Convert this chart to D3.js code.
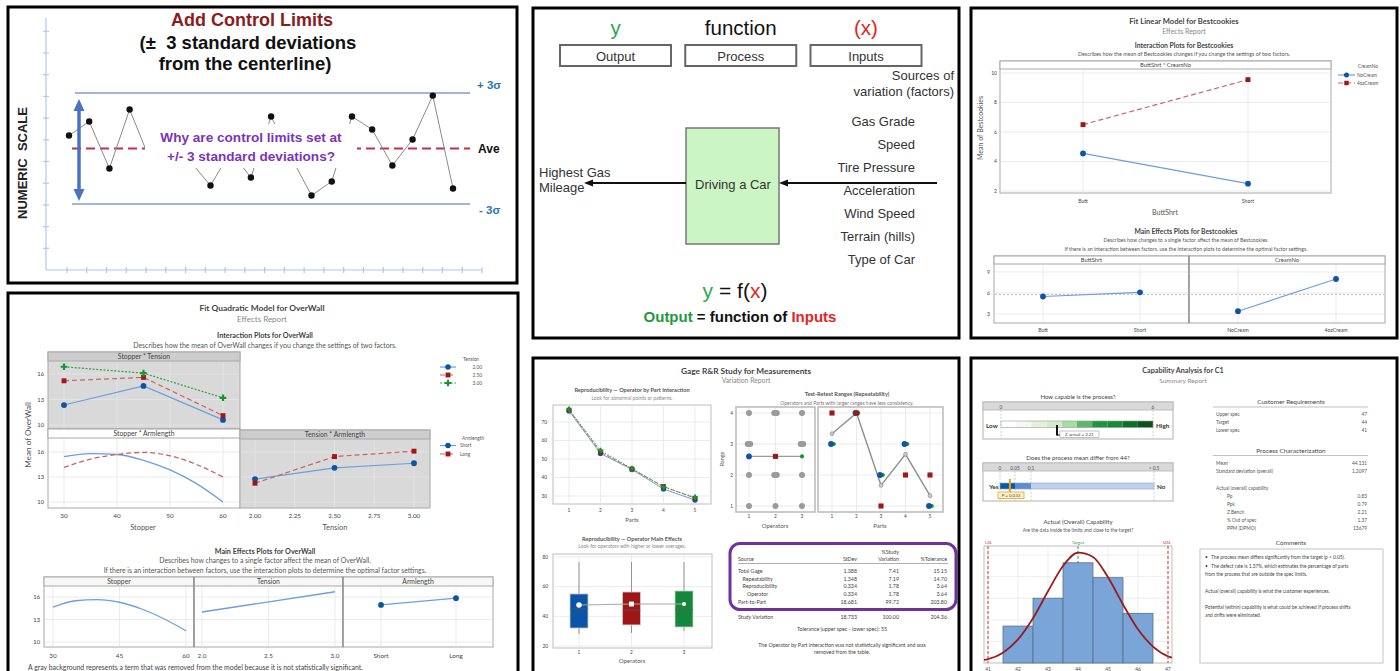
<!DOCTYPE html>
<html>
<head>
<meta charset="utf-8">
<script src="https://cdn.jsdelivr.net/npm/d3@7"></script>
<style>
  body { margin: 0; background: #fff; }
  svg { display: block; }
</style>
</head>
<body>
<svg id="chart" width="1400" height="671"></svg>
<script>
// ---------------- data ----------------
// control chart (values in sigma units around the centerline)
const ctrlValues = [0.70, 1.46, -1.08, 2.11, -0.6, -0.05, -0.7, -2.0, -0.16, -1.57,
                    1.73, -0.49, -2.54, -1.78, 1.73, 1.03, -0.92, 0.49, 2.86, -2.16];
const ctrlLimitLabels = ["+ 3σ", "- 3σ"];

// y = f(x) diagram
const ioWords = ["y", "function", "(x)"];
const ioHeads = ["Output", "Process", "Inputs"];
const factors = ["Gas Grade", "Speed", "Tire Pressure", "Acceleration", "Wind Speed", "Terrain (hills)", "Type of Car"];

// Bestcookies
const buttShrt = ["Butt", "Short"];
const creamNo = ["NoCream", "4ozCream"];
const cookieNoCream = [4.55, 2.5];
const cookie4oz = [6.5, 9.55];
const cookieMainButt = [5.5, 6.1];
const cookieMainCream = [3.4, 8.0];
const cookieMean = 5.8;

// OverWall
const stopperLevels = [30, 45, 60];
const tensionNames = ["2.00", "2.50", "3.00"];
const stopTension = [[12.35, 14.6, 10.6], [15.2, 15.6, 11.1], [16.85, 16.1, 13.2]];
const stopperGrid = [30, 35, 40, 45, 50, 55, 60];
const stopArmShort = [15.45, 15.8, 15.7, 15.0, 13.85, 12.2, 10.0];
const stopArmLong = [14.15, 15.15, 15.7, 15.95, 15.55, 14.5, 13.0];
const tensionLevels = [2.0, 2.5, 3.0];
const tensArmShort = [12.75, 14.1, 14.65];
const tensArmLong = [12.25, 15.45, 16.1];
const armNames = ["Short", "Long"];
const mainStopper = [14.65, 15.5, 15.65, 15.3, 14.4, 13.1, 11.5];
const mainTensionX = [2.0, 3.0];
const mainTension = [14.0, 16.7];
const mainArm = [14.95, 15.85];

// Gage R&R
const parts = [1, 2, 3, 4, 5];
const operators = [1, 2, 3];
const opPartMeans = [[76.0, 53.0, 44.3, 33.8, 27.8], [76.5, 53.8, 44.6, 35.2, 28.8], [76.8, 54.6, 44.8, 34.8, 29.3]];
const opRanges = [[3, 4, 2, 3, 1], [4, 4, 1, 2, 2], [3, 4, 2, 3, 1]];
const opQ1 = [32.1, 34.2, 32.8];
const opMedian = [45.0, 44.2, 44.6];
const opQ3 = [55.1, 56.4, 57.1];
const opLow = [28.1, 28.8, 30.1];
const opHigh = [76.6, 76.6, 76.6];
const opMean = [47.6, 48.3, 48.3];
const gageSources = ["Total Gage", "Repeatability", "Reproducibility", "Operator", "Part-to-Part"];
const gageIndent = [0, 1, 1, 2, 0];
const gageStDev = ["1.388", "1.348", "0.334", "0.334", "18.681"];
const gageStudyVar = ["7.41", "7.19", "1.78", "1.78", "99.72"];
const gageTol = ["15.15", "14.70", "3.64", "3.64", "203.80"];

// Capability
const zBands = [0, 0.6, 1.2, 1.8, 2.4, 3.0, 3.6, 4.2, 4.8, 5.4, 6.0];
const zColors = ["#ffffff", "#f3faf0", "#e2f3da", "#d3edc8", "#a5dca6", "#5db867", "#1f9443", "#168a3a", "#0c6e2b", "#0a531f"];
const zActual = 2.21;
const pBands = [0, 0.05, 0.1, 0.5];
const pColors = ["#0b58a8", "#5b8fd2", "#bcd2f0"];
const pValue = 0.033;
const capBins = [42, 43, 44, 45, 46];
const capHeights = [1.71, 3.0, 4.64, 3.95, 2.3];
const capCurveX = [40.87, 41, 41.5, 42, 42.5, 43, 43.5, 44, 44.5, 45, 45.5, 46, 46.5, 47, 47.13];
const capCurveY = [0.14, 0.18, 0.48, 1.09, 2.07, 3.32, 4.49, 5.11, 4.91, 3.97, 2.71, 1.56, 0.76, 0.31, 0.25];
const specNames = ["LSL", "Target", "USL"];
const specValues = [41, 44, 47];
const custRows = ["Upper spec", "Target", "Lower spec"];
const custVals = ["47", "44", "41"];
const procRows = ["Mean", "Standard deviation (overall)"];
const procVals = ["44.131", "1.2097"];
const capRows = ["Pp", "Ppk", "Z.Bench", "% Out of spec", "PPM (DPMO)"];
const capVals = ["0.83", "0.79", "2.21", "1.37", "13679"];

// ---------------- helpers ----------------
const MT = "Lato, 'Open Sans', 'DejaVu Sans', sans-serif";
const AR = "'Liberation Sans', Arial, sans-serif";
const svg = d3.select("#chart");
svg.append("rect").attr("width", 1400).attr("height", 671).attr("fill", "#fff");

function label(g, x, y, s, size, o = {}) {
  return g.append("text")
    .attr("x", x).attr("y", y)
    .attr("font-family", o.family || MT)
    .attr("font-size", size)
    .attr("font-weight", o.weight || "normal")
    .attr("fill", o.fill || "#333")
    .attr("text-anchor", o.anchor || "start")
    .style("white-space", "pre")
    .text(s);
}
function hline(g, x0, x1, y, col, w, dash) {
  return g.append("line").attr("x1", x0).attr("x2", x1).attr("y1", y).attr("y2", y)
    .attr("stroke", col).attr("stroke-width", w || 1).attr("stroke-dasharray", dash || null);
}
function vline(g, x, y0, y1, col, w, dash) {
  return g.append("line").attr("x1", x).attr("x2", x).attr("y1", y0).attr("y2", y1)
    .attr("stroke", col).attr("stroke-width", w || 1).attr("stroke-dasharray", dash || null);
}
function box(g, x0, y0, x1, y1, fill, stroke, w) {
  return g.append("rect").attr("x", x0).attr("y", y0).attr("width", x1 - x0).attr("height", y1 - y0)
    .attr("fill", fill || "none").attr("stroke", stroke || "none").attr("stroke-width", w || 1);
}
function grid(g, xs, ys, x0, x1, y0, y1, col) {
  xs.forEach(x => vline(g, x, y0, y1, col || "#e6e6e6", 0.8));
  ys.forEach(y => hline(g, x0, x1, y, col || "#e6e6e6", 0.8));
}
function marker(g, type, x, y, size, fill) {
  g.append("path").attr("d", d3.symbol().type(type).size(size)())
    .attr("transform", `translate(${x},${y})`).attr("fill", fill);
}
function series(g, xs, ys, xs_, ys_, st) {
  const line = d3.line().x((d, i) => xs_(xs[i])).y(d => ys_(d)).curve(st.curve || d3.curveLinear);
  g.append("path").datum(ys).attr("d", line).attr("fill", "none")
    .attr("stroke", st.stroke).attr("stroke-width", st.width || 1.2)
    .attr("stroke-dasharray", st.dash || null);
  if (st.symbol) ys.forEach((v, i) => marker(g, st.symbol, xs_(xs[i]) + (st.dx || 0), ys_(v), st.size || 22, st.fill));
}
function facet(g, x0, y0, x1, y1, hh, title, bg, hbg, size) {
  box(g, x0, y0, x1, y1, bg, "#a8a8a8", 1);
  box(g, x0, y0, x1, y0 + hh, hbg, "#a8a8a8", 1);
  if (title) label(g, (x0 + x1) / 2, y0 + hh - 2, title, size, { anchor: "middle", fill: "#444" });
}
const blueSt = { stroke: "#6c9fdc", fill: "#0b54a6", symbol: d3.symbolCircle, size: 26 };
const redSt = { stroke: "#c86464", dash: "5,3", fill: "#a31616", symbol: d3.symbolSquare, size: 24 };
const greenSt = { stroke: "#2ea33a", dash: "2,1.6", fill: "#13962f", symbol: d3.symbolCross, size: 24 };

// =============== panel 1 : control limits ===============
const g1 = svg.append("g");
const axisCol = "#b4c6e7";
const frameY = d3.scaleLinear().domain([0, 12]).range([270, 9.6]);
const frameX = d3.scaleLinear().domain([0, 21]).range([67, 482]);
vline(g1, 46, 18, 270, axisCol, 1.2);
d3.range(1, 12).forEach(t => hline(g1, 43, 49, frameY(t), axisCol, 1.2));
hline(g1, 46, 482, 270, axisCol, 1.2);
d3.range(0, 22).forEach(t => vline(g1, frameX(t), 267, 273, axisCol, 1.2));

label(g1, 252, 26, "Add Control Limits", 18, { family: AR, weight: "bold", fill: "#8b1c1c", anchor: "middle" });
label(g1, 248, 49, "(±  3 standard deviations", 18.5, { family: AR, weight: "bold", fill: "#111", anchor: "middle" });
label(g1, 245, 70, "from the centerline)", 18.5, { family: AR, weight: "bold", fill: "#111", anchor: "middle" });
label(g1, 0, 0, "NUMERIC  SCALE", 13, { family: AR, weight: "bold", fill: "#222", anchor: "middle" })
  .attr("transform", "translate(27,163) rotate(-90)");

const sigY = d3.scaleLinear().domain([-3, 3]).range([204, 93]);
const ptX = d3.scaleLinear().domain([0, ctrlValues.length - 1]).range([69, 453]);
hline(g1, 75, 470, sigY(3), "#7f9ccc", 1.6);
hline(g1, 72, 470, sigY(-3), "#7f9ccc", 1.6);
hline(g1, 72, 470, sigY(0), "#c0304a", 1.8, "9,5");
label(g1, 477, sigY(3) - 4, ctrlLimitLabels[0], 11.5, { family: AR, weight: "bold", fill: "#2e75b6" });
label(g1, 479, sigY(-3) + 10, ctrlLimitLabels[1], 11.5, { family: AR, weight: "bold", fill: "#2e75b6" });
label(g1, 478, sigY(0) + 4, "Ave", 12, { family: AR, weight: "bold", fill: "#111" });

g1.append("path").datum(ctrlValues)
  .attr("d", d3.line().x((d, i) => ptX(i)).y(d => sigY(d)))
  .attr("fill", "none").attr("stroke", "#8a8a8a").attr("stroke-width", 1);
g1.selectAll("circle.pt").data(ctrlValues).enter().append("circle")
  .attr("cx", (d, i) => ptX(i)).attr("cy", d => sigY(d)).attr("r", 3.2).attr("fill", "#111");

// blue double arrow
vline(g1, 79, 108, 192, "#4a72c0", 3.5);
g1.append("path").attr("d", "M79,99 L73.5,111 L84.5,111 Z").attr("fill", "#4a72c0");
g1.append("path").attr("d", "M79,201 L73.5,189 L84.5,189 Z").attr("fill", "#4a72c0");

// callout box
box(g1, 145, 124, 357, 168, "#fff");
label(g1, 251, 142, "Why are control limits set at", 13.6, { family: AR, weight: "bold", fill: "#7a35b8", anchor: "middle" });
label(g1, 251, 160.5, "+/- 3 standard deviations?", 13.6, { family: AR, weight: "bold", fill: "#7a35b8", anchor: "middle" });

// =============== panel 2 : y = f(x) ===============
const g2 = svg.append("g");
const headX = d3.scalePoint().domain(ioHeads).range([615.5, 866]);
const wordCols = ["#2da84a", "#111", "#e42424"];
ioWords.forEach((w, i) => label(g2, headX(ioHeads[i]), 35, w, 20.5, { family: AR, fill: wordCols[i], anchor: "middle" }));
ioHeads.forEach(h => {
  box(g2, headX(h) - 55.5, 45, headX(h) + 55.5, 66, "#fff", "#666", 2);
  label(g2, headX(h), 60.5, h, 13, { family: AR, fill: "#333", anchor: "middle" });
});
label(g2, 954, 80, "Sources of", 13, { family: AR, fill: "#333", anchor: "end" });
label(g2, 954, 96, "variation (factors)", 13, { family: AR, fill: "#333", anchor: "end" });
const facY = d3.scalePoint().domain(factors).range([126, 264]);
factors.forEach(f => label(g2, 915, facY(f), f, 13, { family: AR, fill: "#333", anchor: "end" }));

box(g2, 686, 128, 779, 244, "#ccf5c4", "#777", 1.5);
label(g2, 733, 189, "Driving a Car", 13, { family: AR, fill: "#333", anchor: "middle" });
hline(g2, 785, 937, 183, "#111", 2);
g2.append("path").attr("d", "M779,183 L788,179.5 L788,186.5 Z").attr("fill", "#111");
hline(g2, 591, 686, 183, "#111", 2);
g2.append("path").attr("d", "M584,183 L593,179.5 L593,186.5 Z").attr("fill", "#111");
label(g2, 539, 177, "Highest Gas", 13, { family: AR, fill: "#333" });
label(g2, 539, 192, "Mileage", 13, { family: AR, fill: "#333" });

const eq = g2.append("text").attr("x", 735).attr("y", 298).attr("text-anchor", "middle")
  .attr("font-family", AR).attr("font-size", 21).style("white-space", "pre");
eq.append("tspan").attr("fill", "#2da84a").text("y");
eq.append("tspan").attr("fill", "#111").text(" = f(");
eq.append("tspan").attr("fill", "#e42424").text("x");
eq.append("tspan").attr("fill", "#111").text(")");
const eq2 = g2.append("text").attr("x", 740).attr("y", 322).attr("text-anchor", "middle")
  .attr("font-family", AR).attr("font-size", 15).attr("font-weight", "bold").style("white-space", "pre");
eq2.append("tspan").attr("fill", "#1f9a3c").text("Output");
eq2.append("tspan").attr("fill", "#111").text(" = function of ");
eq2.append("tspan").attr("fill", "#e42424").text("Inputs");

// =============== panel 3 : Bestcookies ===============
const g3 = svg.append("g");
label(g3, 1184, 24, "Fit Linear Model for Bestcookies", 7.6, { anchor: "middle", weight: "bold", fill: "#444" });
label(g3, 1184, 34, "Effects Report", 7, { anchor: "middle", fill: "#888" });
label(g3, 1184, 48, "Interaction Plots for Bestcookies", 6.8, { anchor: "middle", weight: "bold", fill: "#444" });
label(g3, 1184, 55.5, "Describes how the mean of Bestcookies changes if you change the settings of two factors.", 5.4, { anchor: "middle", fill: "#555" });

facet(g3, 1000, 61, 1331, 193, 8, "ButtShrt * CreamNo", "#fff", "#fff", 5.8);
const ckX = d3.scalePoint().domain(buttShrt).range([1083, 1248]);
const ckY = d3.scaleLinear().domain([2, 10]).range([191, 73]);
grid(g3, buttShrt.map(ckX), [2, 4, 6, 8, 10].map(ckY), 1001, 1330, 70, 192);
[2, 4, 6, 8, 10].forEach(t => label(g3, 997, ckY(t) + 1.8, t, 5, { anchor: "end", fill: "#444" }));
buttShrt.forEach(b => label(g3, ckX(b), 203, b, 5.2, { anchor: "middle", fill: "#444" }));
label(g3, 1165, 215, "ButtShrt", 7, { anchor: "middle", fill: "#555" });
label(g3, 0, 0, "Mean of Bestcookies", 7, { anchor: "middle", fill: "#555" })
  .attr("transform", "translate(983,128) rotate(-90)");
series(g3, buttShrt, cookieNoCream, ckX, ckY, blueSt);
series(g3, buttShrt, cookie4oz, ckX, ckY, redSt);
label(g3, 1368, 68, "CreamNo", 4.8, { anchor: "middle", fill: "#555" });
[blueSt, redSt].forEach((st, i) => {
  const y = 75 + i * 8;
  hline(g3, 1338, 1355, y, st.stroke, 1.2, st.dash);
  marker(g3, st.symbol, 1346.5, y, 20, st.fill);
  label(g3, 1357, y + 1.7, creamNo[i], 4.8, { fill: "#555" });
});

label(g3, 1186, 234, "Main Effects Plots for Bestcookies", 6.8, { anchor: "middle", weight: "bold", fill: "#444" });
label(g3, 1186, 242, "Describes how changes to a single factor affect the mean of Bestcookies.", 5.2, { anchor: "middle", fill: "#555" });
label(g3, 1186, 250.5, "If there is an interaction between factors, use the interaction plots to determine the optimal factor settings.", 5.2, { anchor: "middle", fill: "#555" });
const meY3 = d3.scaleLinear().domain([3, 9]).range([314, 272]);
const bsX = d3.scalePoint().domain(buttShrt).range([1043, 1140]);
const cnX = d3.scalePoint().domain(creamNo).range([1238, 1336]);
facet(g3, 994, 256, 1189, 323, 8, "ButtShrt", "#fff", "#fff", 5.8);
facet(g3, 1189, 256, 1385, 323, 8, "CreamNo", "#fff", "#fff", 5.8);
grid(g3, buttShrt.map(bsX).concat(creamNo.map(cnX)), [], 995, 1384, 265, 322);
[3, 6, 9].forEach(t => { hline(g3, 995, 1384, meY3(t), "#e6e6e6", 0.8); label(g3, 990, meY3(t) + 1.8, t, 5, { anchor: "end", fill: "#444" }); });
vline(g3, 1189, 256, 323, "#8a8a8a", 1.2);
hline(g3, 995, 1384, meY3(cookieMean), "#b8b8b8", 0.9, "2,2");
series(g3, buttShrt, cookieMainButt, bsX, meY3, blueSt);
series(g3, creamNo, cookieMainCream, cnX, meY3, blueSt);
buttShrt.forEach(b => label(g3, bsX(b), 331.5, b, 5.2, { anchor: "middle", fill: "#444" }));
creamNo.forEach(c => label(g3, cnX(c), 331.5, c, 5.2, { anchor: "middle", fill: "#444" }));

// =============== panel 4 : OverWall ===============
const g4 = svg.append("g");
label(g4, 262, 311, "Fit Quadratic Model for OverWall", 8.4, { anchor: "middle", weight: "bold", fill: "#444" });
label(g4, 262, 322, "Effects Report", 8, { anchor: "middle", fill: "#888" });
label(g4, 265, 338, "Interaction Plots for OverWall", 7.2, { anchor: "middle", weight: "bold", fill: "#444" });
label(g4, 265, 347.5, "Describes how the mean of OverWall changes if you change the settings of two factors.", 6.9, { anchor: "middle", fill: "#555" });

const stX = d3.scaleLinear().domain([30, 60]).range([64, 223]);
const stY = d3.scaleLinear().domain([10, 16]).range([425, 374]);
const saY = d3.scaleLinear().domain([10, 16]).range([502, 452]);
const taX = d3.scaleLinear().domain([2, 3]).range([255, 414]);
const gTicks = [10, 13, 16];

facet(g4, 48, 352, 240, 429, 9, "Stopper * Tension", "#d9d9d9", "#cdcdcd", 6.8);
grid(g4, [30, 40, 50, 60].map(stX), gTicks.map(stY), 49, 239, 362, 428, "#e6e6e6");
series(g4, stopperLevels, stopTension[0], stX, stY, blueSt);
series(g4, stopperLevels, stopTension[1], stX, stY, redSt);
series(g4, stopperLevels, stopTension[2], stX, stY, greenSt);

facet(g4, 48, 429, 240, 508, 9, "Stopper * Armlength", "#fff", "#fff", 6.8);
grid(g4, [30, 40, 50, 60].map(stX), gTicks.map(saY), 49, 239, 439, 507);
series(g4, stopperGrid, stopArmShort, stX, saY, { stroke: "#6c9fdc", width: 1.3, curve: d3.curveMonotoneX });
series(g4, stopperGrid, stopArmLong, stX, saY, { stroke: "#c86464", dash: "5,3", width: 1.3, curve: d3.curveMonotoneX });

facet(g4, 240, 430, 430, 508, 9, "Tension * Armlength", "#d9d9d9", "#cdcdcd", 6.8);
grid(g4, [2, 2.25, 2.5, 2.75, 3].map(taX), gTicks.map(saY), 241, 429, 440, 507, "#e6e6e6");
series(g4, tensionLevels, tensArmShort, taX, saY, blueSt);
series(g4, tensionLevels, tensArmLong, taX, saY, redSt);

gTicks.forEach(t => {
  label(g4, 44, stY(t) + 2, t, 5.8, { anchor: "end", fill: "#444" });
  label(g4, 44, saY(t) + 2, t, 5.8, { anchor: "end", fill: "#444" });
});
[30, 40, 50, 60].forEach(t => label(g4, stX(t), 518, t, 6.3, { anchor: "middle", fill: "#444" }));
[2, 2.25, 2.5, 2.75, 3].forEach(t => label(g4, taX(t), 518, d3.format(".2f")(t), 6.3, { anchor: "middle", fill: "#444" }));
label(g4, 143, 530, "Stopper", 7.4, { anchor: "middle", fill: "#555" });
label(g4, 335, 530, "Tension", 7.4, { anchor: "middle", fill: "#555" });
label(g4, 0, 0, "Mean of OverWall", 8.2, { anchor: "middle", fill: "#555" })
  .attr("transform", "translate(31,435) rotate(-90)");

label(g4, 471, 361, "Tension", 4.8, { anchor: "middle", fill: "#555" });
[blueSt, redSt, greenSt].forEach((st, i) => {
  const y = 367 + i * 8;
  hline(g4, 440, 456, y, st.stroke, 1.2, st.dash);
  marker(g4, st.symbol, 448, y, 24, st.fill);
  label(g4, 482, y + 1.7, tensionNames[i], 4.8, { anchor: "end", fill: "#555" });
});
label(g4, 473, 439.5, "Armlength", 4.8, { anchor: "middle", fill: "#555" });
[blueSt, redSt].forEach((st, i) => {
  const y = 445.5 + i * 8.5;
  hline(g4, 440, 456, y, st.stroke, 1.2, st.dash);
  marker(g4, st.symbol, 448, y, 24, st.fill);
  label(g4, 460, y + 1.7, armNames[i], 4.8, { fill: "#555" });
});

label(g4, 265, 553.5, "Main Effects Plots for OverWall", 7.2, { anchor: "middle", weight: "bold", fill: "#444" });
label(g4, 265, 563, "Describes how changes to a single factor affect the mean of OverWall.", 6.9, { anchor: "middle", fill: "#555" });
label(g4, 265, 572.5, "If there is an interaction between factors, use the interaction plots to determine the optimal factor settings.", 6.9, { anchor: "middle", fill: "#555" });
const meY4 = d3.scaleLinear().domain([10, 16]).range([642, 597]);
const msX = d3.scaleLinear().domain([30, 60]).range([53, 186]);
const mtX = d3.scaleLinear().domain([2, 3]).range([202, 335]);
const maX = d3.scalePoint().domain(armNames).range([381, 456]);
facet(g4, 44, 577, 194, 647, 9, "Stopper", "#fff", "#f7f7f7", 6.8);
facet(g4, 194, 577, 343, 647, 9, "Tension", "#fff", "#f7f7f7", 6.8);
facet(g4, 343, 577, 493, 647, 9, "Armlength", "#fff", "#f7f7f7", 6.8);
grid(g4, [30, 45, 60].map(msX).concat([2, 2.5, 3].map(mtX), armNames.map(maX)), [], 45, 492, 587, 646);
gTicks.forEach(t => { hline(g4, 45, 492, meY4(t), "#e6e6e6", 0.8); label(g4, 40, meY4(t) + 2, t, 5.8, { anchor: "end", fill: "#444" }); });
vline(g4, 194, 577, 647, "#8a8a8a", 1.3);
vline(g4, 343, 577, 647, "#8a8a8a", 1.3);
series(g4, stopperGrid, mainStopper, msX, meY4, { stroke: "#6c9fdc", width: 1.3, curve: d3.curveMonotoneX });
series(g4, mainTensionX, mainTension, mtX, meY4, { stroke: "#6c9fdc", width: 1.3 });
series(g4, armNames, mainArm, maX, meY4, blueSt);
[30, 45, 60].forEach(t => label(g4, msX(t), 657.5, t, 6.3, { anchor: "middle", fill: "#444" }));
[2, 2.5, 3].forEach(t => label(g4, mtX(t), 657.5, d3.format(".1f")(t), 6.3, { anchor: "middle", fill: "#444" }));
armNames.forEach(a => label(g4, maX(a), 657.5, a, 6.3, { anchor: "middle", fill: "#444" }));
label(g4, 28, 669.5, "A gray background represents a term that was removed from the model because it is not statistically significant.", 6.9, { fill: "#444" });

// =============== panel 5 : Gage R&R ===============
const g5 = svg.append("g");
label(g5, 746, 374, "Gage R&R Study for Measurements", 8.3, { anchor: "middle", weight: "bold", fill: "#444" });
label(g5, 746, 383, "Variation Report", 6.8, { anchor: "middle", fill: "#888" });
label(g5, 632, 392, "Reproducibility — Operator by Part Interaction", 5.6, { anchor: "middle", weight: "bold", fill: "#555" });
label(g5, 632, 399.5, "Look for abnormal points or patterns.", 5, { anchor: "middle", fill: "#888" });

const opStyles = [
  { stroke: "#6c9fdc", fill: "#0b54a6", symbol: d3.symbolCircle, size: 22, dx: 0 },
  { stroke: "#c86464", dash: "4,2", fill: "#a31616", symbol: d3.symbolSquare, size: 22, dx: 0 },
  { stroke: "#2ea33a", dash: "1.5,1.5", fill: "#13962f", symbol: d3.symbolCross, size: 18, dx: 0 }
];
box(g5, 553, 405, 711, 504, "#fff", "#bdbdbd", 1);
const ppX = d3.scaleLinear().domain([1, 5]).range([569, 695]);
const ppY = d3.scaleLinear().domain([30, 70]).range([496, 422]);
grid(g5, parts.map(ppX), [30, 40, 50, 60, 70].map(ppY), 554, 710, 406, 503);
[30, 40, 50, 60, 70].forEach(t => label(g5, 547, ppY(t) + 1.7, t, 4.8, { anchor: "end", fill: "#444" }));
parts.forEach(p => label(g5, ppX(p), 512, p, 4.8, { anchor: "middle", fill: "#444" }));
label(g5, 632, 521.5, "Parts", 6, { anchor: "middle", fill: "#555" });
opPartMeans.forEach((row, i) => series(g5, parts, row, ppX, ppY, Object.assign({ width: 1 }, opStyles[i])));

// test-retest ranges
label(g5, 847, 396, "Test-Retest Ranges (Repeatability)", 5.6, { anchor: "middle", weight: "bold", fill: "#555" });
label(g5, 847, 405, "Operators and Parts with larger ranges have less consistency.", 5, { anchor: "middle", fill: "#777" });
const rY = d3.scaleLinear().domain([1, 4]).range([506, 413]);
const orX = d3.scaleLinear().domain([1, 3]).range([749, 802]);
const prX = d3.scaleLinear().domain([1, 5]).range([832, 930]);
box(g5, 736, 407, 815, 512, "#fff", "#bdbdbd", 1.6);
box(g5, 818, 407, 943, 512, "#fff", "#bdbdbd", 1.6);
grid(g5, operators.map(orX), [1, 2, 3, 4].map(rY), 737, 814, 408, 511);
grid(g5, parts.map(prX), [1, 2, 3, 4].map(rY), 819, 942, 408, 511);
[1, 2, 3, 4].forEach(t => label(g5, 733, rY(t) + 1.7, t, 4.8, { anchor: "end", fill: "#444" }));
operators.forEach(o => label(g5, orX(o), 517.5, o, 4.8, { anchor: "middle", fill: "#444" }));
parts.forEach(p => label(g5, prX(p), 517.5, p, 4.8, { anchor: "middle", fill: "#444" }));
label(g5, 775, 528, "Operators", 6, { anchor: "middle", fill: "#555" });
label(g5, 880, 528, "Parts", 6, { anchor: "middle", fill: "#555" });
label(g5, 0, 0, "Range", 5.4, { anchor: "middle", fill: "#555" }).attr("transform", "translate(724,459) rotate(-90)");
opRanges.forEach((row, i) => {
  const counts = {};
  row.forEach(v => { counts[v] = (counts[v] || 0) + 1; });
  const seen = {};
  row.forEach(v => {
    const k = seen[v] || 0; seen[v] = k + 1;
    const off = (k - (counts[v] - 1) / 2) * 2.5;
    g5.append("circle").attr("cx", orX(operators[i]) + off).attr("cy", rY(v)).attr("r", 3).attr("fill", "#9a9a9a");
  });
});
const rrSym = [d3.symbolCircle, d3.symbolSquare, d3.symbolCircle];
const rrSize = [26, 26, 13];
const opRangeMean = opRanges.map(r => d3.mean(r));
series(g5, operators, opRangeMean, orX, rY, { stroke: "#9a9a9a", width: 1.4 });
opRangeMean.forEach((m, i) => marker(g5, rrSym[i], orX(operators[i]), rY(m), rrSize[i], opStyles[i].fill));
const partRangeMean = parts.map((p, j) => d3.mean(opRanges, r => r[j]));
series(g5, parts, partRangeMean, prX, rY, { stroke: "#8f8f8f", width: 1.4 });
partRangeMean.forEach((m, j) => g5.append("circle").attr("cx", prX(parts[j])).attr("cy", rY(m)).attr("r", 2).attr("fill", "#c8c8c8").attr("stroke", "#888").attr("stroke-width", 0.6));
const rangeDx = [-1, 0, 1.8];
[2, 0, 1].forEach(i => opRanges[i].forEach((v, j) => marker(g5, rrSym[i], prX(parts[j]) + rangeDx[i], rY(v), rrSize[i], opStyles[i].fill)));

// operator main effects boxplot
label(g5, 632, 540.5, "Reproducibility — Operator Main Effects", 5.6, { anchor: "middle", weight: "bold", fill: "#555" });
label(g5, 632, 548, "Look for operators with higher or lower averages.", 5, { anchor: "middle", fill: "#888" });
box(g5, 553, 554, 712, 648, "#fff", "#bdbdbd", 1);
const bY = d3.scaleLinear().domain([20, 80]).range([646, 557]);
const bX = d3.scaleLinear().domain([1, 3]).range([579, 684]);
grid(g5, operators.map(bX), [20, 40, 60, 80].map(bY), 554, 711, 555, 647);
[20, 40, 60, 80].forEach(t => label(g5, 548, bY(t) + 1.7, t, 4.8, { anchor: "end", fill: "#444" }));
operators.forEach(o => label(g5, bX(o), 653.5, o, 4.8, { anchor: "middle", fill: "#444" }));
label(g5, 632, 662.5, "Operators", 6, { anchor: "middle", fill: "#555" });
const boxFill = ["#0b54a6", "#9e1616", "#13873a"];
operators.forEach((o, i) => {
  const x = bX(o);
  vline(g5, x, bY(opHigh[i]), bY(opLow[i]), "#8a8a8a", 0.9);
  box(g5, x - 9, bY(opQ3[i]), x + 9, bY(opQ1[i]), boxFill[i], "#d0d0d0", 0.8);
  hline(g5, x - 9, x + 9, bY(opMedian[i]), "#5a5a5a", 0.7);
});
series(g5, operators, opMean, bX, bY, { stroke: "#a8a8a8", width: 1 });
const meanSym = [d3.symbolCircle, d3.symbolSquare, d3.symbolCircle];
opMean.forEach((m, i) => marker(g5, meanSym[i], bX(operators[i]), bY(m), i === 2 ? 14 : 24, "#fff"));

// table
g5.append("rect").attr("x", 730).attr("y", 543.5).attr("width", 226).attr("height", 66)
  .attr("rx", 10).attr("fill", "none").attr("stroke", "#7030a0").attr("stroke-width", 3);
const colR = [857, 899, 947];
const tf = { fill: "#444" };
label(g5, colR[1], 553.5, "%Study", 5.3, Object.assign({ anchor: "end" }, tf));
label(g5, 738, 561, "Source", 5.3, tf);
label(g5, colR[0], 561, "StDev", 5.3, Object.assign({ anchor: "end" }, tf));
label(g5, colR[1], 561, "Variation", 5.3, Object.assign({ anchor: "end" }, tf));
label(g5, colR[2], 561, "%Tolerance", 5.3, Object.assign({ anchor: "end" }, tf));
hline(g5, 738, 948, 563.5, "#9a9a9a", 0.8);
const rowY = d3.scaleLinear().domain([0, 4]).range([573, 603.5]);
gageSources.forEach((s, i) => {
  const y = rowY(i);
  label(g5, 738 + gageIndent[i] * 4.5, y, s, 5.3, tf);
  label(g5, colR[0], y, gageStDev[i], 5.3, Object.assign({ anchor: "end" }, tf));
  label(g5, colR[1], y, gageStudyVar[i], 5.3, Object.assign({ anchor: "end" }, tf));
  label(g5, colR[2], y, gageTol[i], 5.3, Object.assign({ anchor: "end" }, tf));
});
label(g5, 738, 619, "Study Variation", 5.3, tf);
label(g5, colR[0], 619, "18.733", 5.3, Object.assign({ anchor: "end" }, tf));
label(g5, colR[1], 619, "100.00", 5.3, Object.assign({ anchor: "end" }, tf));
label(g5, colR[2], 619, "204.36", 5.3, Object.assign({ anchor: "end" }, tf));
label(g5, 842, 631, "Tolerance (upper spec - lower spec): 55", 5.3, Object.assign({ anchor: "middle" }, tf));
label(g5, 842, 646.5, "The Operator by Part interaction was not statistically significant and was", 5.3, Object.assign({ anchor: "middle" }, tf));
label(g5, 842, 654, "removed from the table.", 5.3, Object.assign({ anchor: "middle" }, tf));

// =============== panel 6 : Capability ===============
const g6 = svg.append("g");
label(g6, 1183, 373, "Capability Analysis for C1", 7.2, { anchor: "middle", weight: "bold", fill: "#444" });
label(g6, 1183, 382.5, "Summary Report", 6.5, { anchor: "middle", fill: "#888" });

label(g6, 1078, 398.5, "How capable is the process?", 6.1, { anchor: "middle", fill: "#444" });
box(g6, 983, 402, 1173, 439, "#fff", "#bdbdbd", 1.2);
box(g6, 983, 402, 1173, 410, "#d9d9d9", "#bdbdbd", 1);
const zX = d3.scaleLinear().domain([0, 6]).range([1001, 1153]);
[0, 6].forEach(t => { label(g6, zX(t), 408.5, t, 4.8, { anchor: "middle", fill: "#555" }); vline(g6, zX(t), 410, 439, "#c4c4c4", 0.8, "2,1.5"); });
zColors.forEach((c, i) => box(g6, zX(zBands[i]), 421, zX(zBands[i + 1]), 427.5, c));
box(g6, zX(0), 421, zX(6), 427.5, "none", "#9a9a9a", 0.6);
label(g6, 986, 427.5, "Low", 6.3, { weight: "bold", fill: "#333" });
label(g6, 1156, 427.5, "High", 6.3, { weight: "bold", fill: "#333" });
vline(g6, zX(zActual), 425, 435.5, "#111", 2);
hline(g6, zX(zActual), zX(zActual) + 3, 435, "#111", 1);
box(g6, 1060, 431, 1099, 437.5, "#fff", "#9a9a9a", 0.6);
label(g6, 1079.5, 436.3, "Z actual = 2.21", 4.4, { anchor: "middle", fill: "#444" });

label(g6, 1078, 459.5, "Does the process mean differ from 44?", 6.1, { anchor: "middle", fill: "#444" });
box(g6, 983, 463, 1173, 501, "#fff", "#bdbdbd", 1.2);
box(g6, 983, 463, 1173, 471, "#d9d9d9", "#bdbdbd", 1);
const pX = d3.scaleLinear().domain(pBands).range([1000, 1015, 1031, 1154]);
const pLabels = ["0", "0.05", "0.1", "> 0.5"];
pBands.forEach((t, i) => { label(g6, pX(t), 469.5, pLabels[i], 4.8, { anchor: "middle", fill: "#555" }); vline(g6, pX(t), 471, 501, "#c4c4c4", 0.8, "2,1.5"); });
pColors.forEach((c, i) => box(g6, pX(pBands[i]), 483, pX(pBands[i + 1]), 489, c));
box(g6, pX(0), 483, pX(0.5), 489, "none", "#8fa6c4", 0.6);
label(g6, 989, 488.5, "Yes", 6.3, { weight: "bold", fill: "#333" });
label(g6, 1157, 488.5, "No", 6.3, { weight: "bold", fill: "#333" });
vline(g6, pX(pValue), 479, 492, "#f0a010", 2);
box(g6, 998, 492, 1024, 498.5, "#fff3d0", "#f0a010", 0.8);
label(g6, 1011, 497.3, "P = 0.033", 4.4, { anchor: "middle", fill: "#444" });

label(g6, 1078, 523.5, "Actual (Overall) Capability", 6.1, { anchor: "middle", fill: "#444" });
label(g6, 1078, 531.5, "Are the data inside the limits and close to the target?", 4.8, { anchor: "middle", fill: "#555" });
box(g6, 984, 546, 1172, 663, "#fff", "#bdbdbd", 1);
const hX = d3.scaleLinear().domain([41, 47]).range([988, 1168]);
const hY = d3.scaleLinear().domain([0, 5]).range([663, 555]);
grid(g6, d3.range(41, 48).map(hX), [1, 2, 3, 4, 5].map(hY), 985, 1171, 547, 662, "#e8e8e8");
vline(g6, hX(specValues[1]), 546, 663, "#3aa655", 1, "3,2");
capBins.forEach((b, i) => box(g6, hX(b - 0.5), hY(capHeights[i]), hX(b + 0.5), hY(0), "#79a5d8", "#5d6f86", 0.8));
series(g6, capCurveX, capCurveY, hX, hY, { stroke: "#9b1c1c", width: 1.8, curve: d3.curveMonotoneX });
[0, 2].forEach(i => vline(g6, hX(specValues[i]), 546, 663, "#e23030", 1, "3,2"));
const specCols = ["#d03030", "#2f9a45", "#d03030"];
specNames.forEach((s, i) => label(g6, hX(specValues[i]) - (i === 0 ? -0.5 : i === 2 ? 1 : 0), 543.5, s, 4.6, { anchor: "middle", fill: specCols[i] }));
d3.range(41, 48).forEach(t => label(g6, hX(t), 670.5, t, 4.8, { anchor: "middle", fill: "#444" }));

// summary tables
label(g6, 1291, 404, "Customer Requirements", 6.4, { anchor: "middle", fill: "#444" });
hline(g6, 1213, 1368, 407, "#b0b0b0", 0.8);
custRows.forEach((r, i) => {
  const y = 416 + i * 8.2;
  label(g6, 1216, y, r, 4.8, { fill: "#555" });
  label(g6, 1367, y, custVals[i], 4.8, { anchor: "end", fill: "#555" });
});
label(g6, 1291, 452.5, "Process Characterization", 6.4, { anchor: "middle", fill: "#444" });
hline(g6, 1213, 1368, 455.5, "#b0b0b0", 0.8);
procRows.forEach((r, i) => {
  const y = 465 + i * 8;
  label(g6, 1216, y, r, 4.8, { fill: "#555" });
  label(g6, 1367, y, procVals[i], 4.8, { anchor: "end", fill: "#555" });
});
label(g6, 1216, 490, "Actual (overall) capability", 4.8, { fill: "#555" });
capRows.forEach((r, i) => {
  const y = 498 + i * 8;
  label(g6, 1227, y, r, 4.8, { fill: "#555" });
  label(g6, 1367, y, capVals[i], 4.8, { anchor: "end", fill: "#555" });
});
label(g6, 1291, 544.5, "Comments", 6.4, { anchor: "middle", fill: "#444" });
box(g6, 1200, 549, 1383, 663, "#fff", "#c4c4c4", 1);
const cm = { fill: "#444" };
label(g6, 1205, 559, "•", 4.8, cm);
label(g6, 1211, 559, "The process mean differs significantly from the target (p < 0.05).", 4.8, cm);
label(g6, 1205, 567.5, "•", 4.8, cm);
label(g6, 1211, 567.5, "The defect rate is 1.37%, which estimates the percentage of parts", 4.8, cm);
label(g6, 1205, 575.5, "from the process that are outside the spec limits.", 4.8, cm);
label(g6, 1205, 592.5, "Actual (overall) capability is what the customer experiences.", 4.8, cm);
label(g6, 1205, 608.5, "Potential (within) capability is what could be achieved if process shifts", 4.8, cm);
label(g6, 1205, 616.5, "and drifts were eliminated.", 4.8, cm);

// =============== panel borders ===============
[[8, 7, 517, 283], [533, 8, 959, 338], [971, 8, 1397, 338],
 [8, 293, 518, 676], [533, 358, 959, 676], [971, 358, 1397, 676]]
  .forEach(b => box(svg, b[0], b[1], b[2], b[3], "none", "#000", 3));
</script>
</body>
</html>
